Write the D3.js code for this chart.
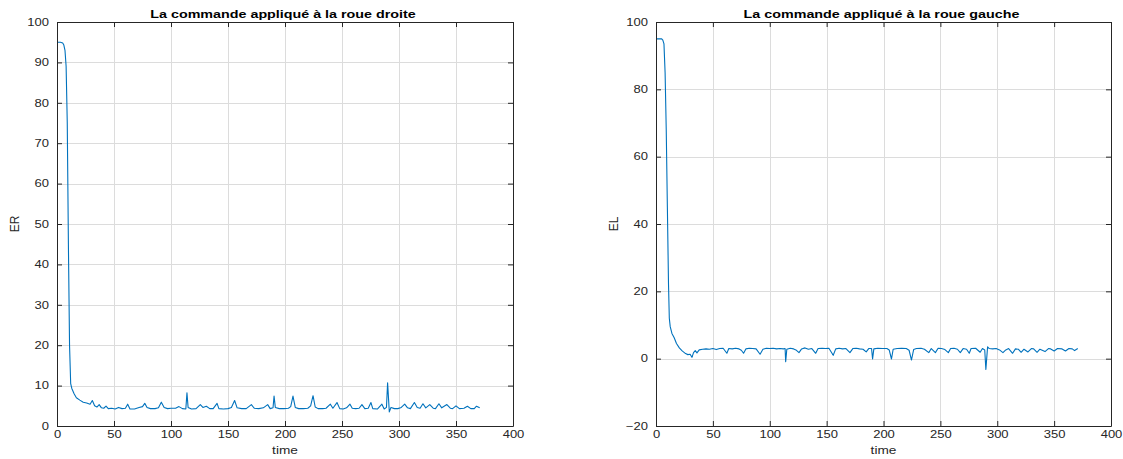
<!DOCTYPE html>
<html>
<head>
<meta charset="utf-8">
<script src="https://cdn.jsdelivr.net/npm/d3@7"></script>
<style>
  html, body { margin: 0; padding: 0; background: #fff; }
  svg { display: block; font-family: "Liberation Sans", Arial, Helvetica, sans-serif; }
</style>
</head>
<body>
<svg id="fig" width="1123" height="459"></svg>
<script>
// Right-wheel command ER versus time
const timeER = [0, 3, 5, 6, 7, 8, 9, 10, 11, 12, 13, 15, 17, 20, 23, 26, 29, 31, 33, 35, 37, 39, 41, 43, 45, 48, 51, 54, 57, 60, 62, 64, 68, 72, 75, 77, 79, 82, 86, 89, 91.5, 94, 97, 100, 104, 107, 110, 113, 114, 115, 118, 122, 125.7, 128, 131, 134, 137, 140.4, 142, 146, 150, 153, 155.8, 158, 162, 166, 170.5, 173, 177, 181, 184.8, 187, 189.5, 190.4, 191.5, 195, 199, 203, 205, 207, 209, 212, 216, 220, 222.5, 224.6, 226.5, 229, 233, 236, 239.8, 242, 245.6, 248, 251, 254, 257, 259, 262, 265, 267.5, 270, 273, 275.4, 277, 281, 285, 287, 289, 290, 291.5, 293, 296, 299, 302, 305, 307.5, 310, 313.5, 316, 318.5, 321, 323.5, 327, 330, 332, 335, 337.5, 342, 345, 347, 350, 353, 357, 360, 363, 366, 368, 370.8];
const valuesER = [95, 95, 94.8, 94.3, 93, 89, 75, 45, 20, 10.5, 9.3, 8, 7, 6.4, 5.9, 5.7, 5.4, 6.3, 5.0, 4.7, 5.3, 4.5, 4.4, 4.9, 4.3, 4.4, 4.2, 4.6, 4.3, 4.4, 5.4, 4.2, 4.2, 4.6, 4.8, 5.6, 4.6, 4.3, 4.3, 4.5, 5.9, 4.6, 4.3, 4.4, 4.4, 4.8, 4.3, 4.2, 8.2, 4.6, 4.2, 4.3, 5.3, 4.6, 4.9, 4.3, 4.3, 5.6, 4.3, 4.2, 4.3, 4.6, 6.3, 4.5, 4.3, 4.3, 5.3, 4.4, 4.3, 4.5, 5.3, 4.3, 4.5, 7.4, 4.6, 4.3, 4.3, 4.4, 4.8, 7.4, 4.6, 4.3, 4.3, 4.4, 5.0, 7.5, 4.7, 4.3, 4.3, 4.4, 5.4, 4.4, 5.8, 4.3, 4.2, 4.5, 5.4, 4.4, 4.3, 4.4, 5.3, 4.3, 4.4, 5.8, 4.3, 4.2, 5.4, 4.2, 4.6, 10.7, 3.5, 4.6, 4.3, 4.3, 4.6, 5.4, 4.5, 4.3, 5.8, 4.6, 4.4, 5.5, 4.5, 5.3, 4.4, 4.3, 5.5, 4.5, 5.3, 4.4, 4.3, 5.0, 4.3, 4.4, 4.9, 4.3, 4.3, 4.9, 4.5];

// Left-wheel command EL versus time
const timeEL = [0, 5, 6, 7, 8, 9, 10, 11, 11.7, 12.5, 14, 16, 18, 20.5, 23, 26, 28, 30, 31.6, 33, 34.5, 36, 38, 41, 44, 47, 50, 53, 56, 59, 62.3, 64, 67, 70, 73, 75, 77, 79, 82, 85, 88, 91.5, 94, 97, 100, 103, 106, 109, 112, 113.5, 114, 115, 118, 121, 123, 125.7, 128, 131, 134, 137, 140.4, 142.5, 146, 149, 152, 155.8, 158, 161, 164, 167, 170.5, 173, 176, 179, 182, 184.8, 187, 189.5, 190.4, 191.5, 195, 199, 203, 205, 207, 208.5, 212, 216, 220, 222.5, 224.6, 226.5, 229, 233, 236, 239.8, 242, 245.6, 248, 251, 254, 257, 259, 262, 265, 267.5, 270, 273, 275.4, 277, 281, 285, 287, 289, 290, 291.5, 293, 296, 299, 302, 305, 307.5, 310, 313.5, 316, 318.5, 321, 323.5, 327, 330, 332, 335, 337.5, 342, 345, 347, 350, 353, 357, 360, 363, 366, 368, 370.8];
const valuesEL = [95, 95, 94.6, 93.5, 85, 68, 45, 22, 12, 9.5, 7.5, 6.2, 4.5, 3.2, 2.3, 1.5, 1.2, 1.3, 0.4, 1.8, 2.4, 1.7, 2.6, 2.8, 2.9, 2.8, 3.0, 2.7, 3.0, 3.1, 1.6, 3.0, 2.9, 3.1, 2.9, 2.5, 1.6, 2.9, 3.1, 3.0, 2.9, 1.3, 2.8, 3.1, 3.0, 3.1, 2.9, 3.0, 2.9, 3.0, -0.9, 2.8, 3.1, 2.9, 2.6, 1.8, 2.9, 3.2, 2.8, 3.0, 1.6, 3.0, 3.1, 3.0, 3.1, 1.0, 2.9, 3.1, 2.9, 3.0, 1.8, 3.0, 3.1, 2.9, 2.8, 2.0, 3.0, 3.0, -0.1, 2.9, 3.1, 3.0, 3.0, 2.6, -0.1, 2.8, 3.0, 3.1, 3.0, 2.5, -0.4, 2.7, 3.0, 3.1, 2.8, 1.8, 3.0, 1.8, 3.1, 3.0, 2.7, 1.8, 3.0, 3.1, 2.8, 1.8, 3.0, 2.8, 1.6, 3.0, 3.1, 1.9, 3.0, 2.6, -3.2, 3.5, 3.0, 2.9, 3.0, 2.6, 1.8, 2.6, 3.0, 1.6, 2.9, 2.8, 1.9, 2.8, 2.0, 3.0, 2.9, 1.9, 2.8, 2.1, 3.0, 2.9, 2.3, 3.0, 2.9, 2.3, 3.0, 2.9, 2.4, 3.0];

const xTicks = [0, 50, 100, 150, 200, 250, 300, 350, 400];
const yTicksER = [0, 10, 20, 30, 40, 50, 60, 70, 80, 90, 100];
const yTicksEL = [-20, 0, 20, 40, 60, 80, 100];

const titleER = "La commande appliqué à la roue droite";
const titleEL = "La commande appliqué à la roue gauche";

const svg = d3.select("#fig");
const INK = "#262626";
const GRID = "#dcdcdc";
const LINE = "#0072bd";
// the figure's lettering is set wide: horizontal stretch applied to each text
const WIDEN = 1.3;

function panel(opts) {
  const { left, right, top, bottom, times, values, yDomain, yTicks, title, ylabel } = opts;
  const x = d3.scaleLinear().domain([0, 400]).range([left, right]);
  const y = d3.scaleLinear().domain(yDomain).range([bottom, top]);
  const g = svg.append("g");

  // grid
  g.append("g").selectAll("line").data(xTicks.slice(1, -1)).join("line")
    .attr("x1", d => Math.round(x(d)) + 0.5).attr("x2", d => Math.round(x(d)) + 0.5)
    .attr("y1", top).attr("y2", bottom)
    .attr("stroke", GRID).attr("stroke-width", 1);
  g.append("g").selectAll("line").data(yTicks.slice(1, -1)).join("line")
    .attr("y1", d => Math.round(y(d)) + 0.5).attr("y2", d => Math.round(y(d)) + 0.5)
    .attr("x1", left).attr("x2", right)
    .attr("stroke", GRID).attr("stroke-width", 1);

  // signal
  const pts = times.map((t, i) => [t, values[i]]);
  g.append("path").datum(pts)
    .attr("fill", "none").attr("stroke", LINE).attr("stroke-width", 1.1)
    .attr("stroke-linejoin", "round")
    .attr("d", d3.line().x(d => x(d[0])).y(d => y(d[1])));

  const styleAxis = sel => {
    sel.selectAll("path.domain").attr("stroke", INK).attr("stroke-width", 1);
    sel.selectAll(".tick line").attr("stroke", INK);
    sel.selectAll("text").attr("fill", INK).attr("class", "wide").style("font-size", "10px")
      .style("font-family", "\"Liberation Sans\", Arial, sans-serif");
  };

  g.append("g").attr("transform", `translate(0,${bottom})`)
    .call(d3.axisBottom(x).tickValues(xTicks).tickSizeInner(-5).tickSizeOuter(0).tickPadding(5))
    .call(styleAxis);
  g.append("g").attr("transform", `translate(0,${top})`)
    .call(d3.axisTop(x).tickValues(xTicks).tickSizeInner(-5).tickSizeOuter(0).tickFormat(""))
    .call(styleAxis);
  g.append("g").attr("transform", `translate(${left},0)`)
    .call(d3.axisLeft(y).tickValues(yTicks).tickSizeInner(-5).tickSizeOuter(0).tickPadding(8))
    .call(styleAxis);
  g.append("g").attr("transform", `translate(${right},0)`)
    .call(d3.axisRight(y).tickValues(yTicks).tickSizeInner(-5).tickSizeOuter(0).tickFormat(""))
    .call(styleAxis);

  const cx = (left + right) / 2;
  g.append("text").attr("class", "wide").attr("x", cx - 2).attr("y", 18).attr("text-anchor", "middle")
    .attr("fill", "#000").style("font-size", "11px").style("font-weight", "bold")
    .text(title);
  g.append("text").attr("class", "wide").attr("x", cx).attr("y", 454).attr("text-anchor", "middle")
    .attr("fill", INK).style("font-size", "10.5px").text("time");
  g.append("text")
    .attr("transform", `translate(${left - 38},${(top + bottom) / 2}) rotate(-90)`)
    .attr("text-anchor", "middle").attr("fill", INK).style("font-size", "12px")
    .text(ylabel);
}

panel({ left: 57, right: 513, top: 22, bottom: 426, times: timeER, values: valuesER,
        yDomain: [0, 100], yTicks: yTicksER, title: titleER, ylabel: "ER" });
panel({ left: 656, right: 1111, top: 22, bottom: 426, times: timeEL, values: valuesEL,
        yDomain: [-20, 100], yTicks: yTicksEL, title: titleEL, ylabel: "EL" });

svg.selectAll("text.wide").each(function () {
  const w = this.getComputedTextLength();
  if (w > 0) {
    this.setAttribute("textLength", (w * WIDEN).toFixed(2));
    this.setAttribute("lengthAdjust", "spacingAndGlyphs");
  }
});
</script>
</body>
</html>
